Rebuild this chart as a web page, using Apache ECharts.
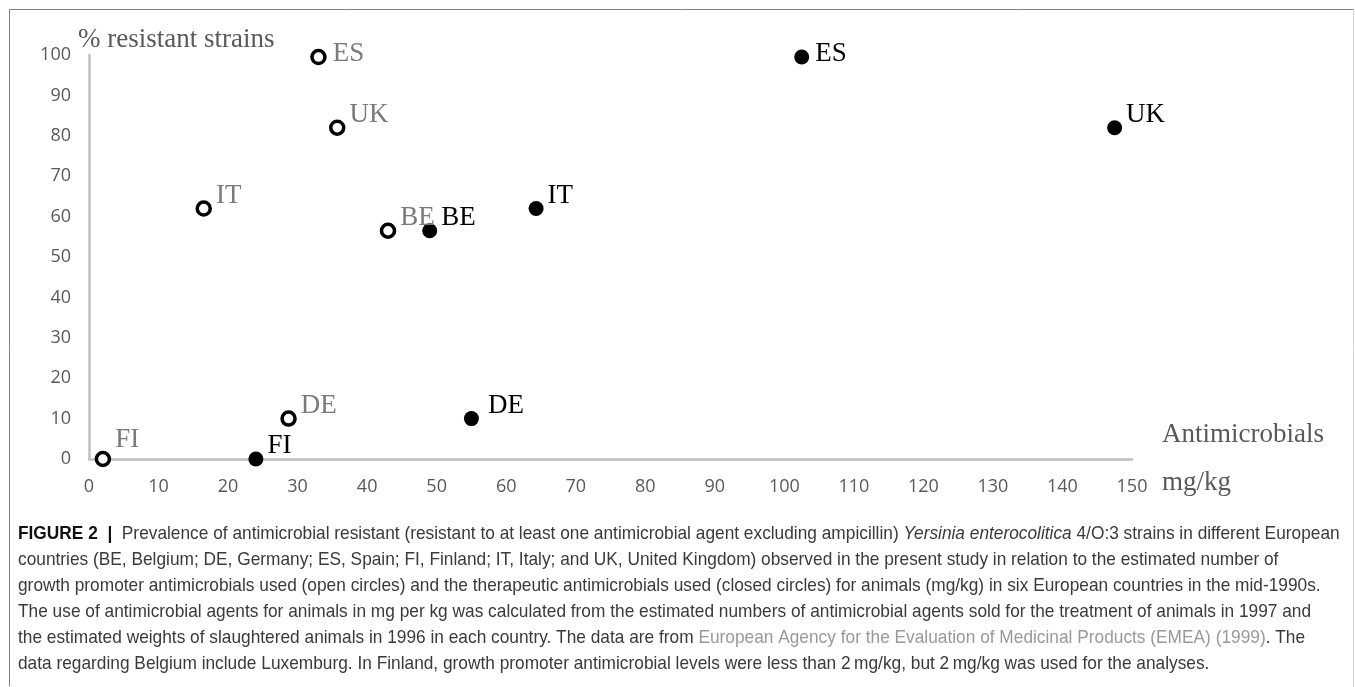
<!DOCTYPE html>
<html lang="en">

<head>
    <meta charset="UTF-8">
    <title>Figure 2</title>
    <script src="https://cdn.jsdelivr.net/npm/echarts@6/dist/echarts.min.js"></script>
    <style>
        html, body {
            margin: 0;
            padding: 0;
            background: #fff;
        }

        #main {
            width: 1355px;
            height: 687px;
        }
    </style>
</head>

<body>
    <div id="main"></div>
    <script>
        // countries, x = antimicrobials used (mg/kg), y = % resistant strains
        var countries = ['BE', 'DE', 'ES', 'FI', 'IT', 'UK'];
        var promoterUse = [43, 28.7, 33, 2, 16.5, 35.7];        // open circles
        var therapeuticUse = [49, 55, 102.5, 24, 64.3, 147.5];  // closed circles
        var resistantPct = [56.5, 10, 99.5, 0, 62, 82];

        var xTicks = [0, 150, 10];   // min, max, step
        var yTicks = [0, 100, 10];

        var captionLines = [
            '{b|FIGURE 2  |}  Prevalence of antimicrobial resistant (resistant to at least one antimicrobial agent excluding ampicillin) {i|Yersinia enterocolitica} 4/O:3 strains in different European',
            'countries (BE, Belgium; DE, Germany; ES, Spain; FI, Finland; IT, Italy; and UK, United Kingdom) observed in the present study in relation to the estimated number of',
            'growth promoter antimicrobials used (open circles) and the therapeutic antimicrobials used (closed circles) for animals (mg/kg) in six European countries in the mid-1990s.',
            'The use of antimicrobial agents for animals in mg per kg was calculated from the estimated numbers of antimicrobial agents sold for the treatment of animals in 1997 and',
            'the estimated weights of slaughtered animals in 1996 in each country. The data are from {l|European Agency for the Evaluation of Medicinal Products (EMEA) (1999)}. The',
            'data regarding Belgium include Luxemburg. In Finland, growth promoter antimicrobial levels were less than 2\u2009mg/kg, but 2\u2009mg/kg was used for the analyses.'
        ];

        // small hand nudges of the data labels (same order as countries)
        var openLabelNudge = [[0, 0], [0, 0], [2, 10], [0, -6], [0, 0], [0, 0]];
        var closedLabelNudge = [[0, 0], [5, 0], [2, 10], [0, 0], [0, 0], [0, 0]];

        var serif = '"Liberation Serif", "Times New Roman", serif';
        var capFont = '"Liberation Sans", Arial, sans-serif';
        var capSize = 19;

        function points(xs, nudge) {
            return countries.map(function (c, i) {
                return {
                    name: c,
                    value: [xs[i], resistantPct[i]],
                    label: { offset: [2 + nudge[i][0], -13 + nudge[i][1]] }
                };
            });
        }

        // squeeze the caption so the first line spans the figure width (condensed face in original)
        var ctx = document.createElement('canvas').getContext('2d');
        ctx.font = 'bold ' + capSize + 'px ' + capFont;
        var w1 = ctx.measureText('FIGURE 2  |').width;
        ctx.font = capSize + 'px ' + capFont;
        w1 += ctx.measureText(captionLines[0].replace(/\{[a-z]\|([^}]*)\}/g, '$1').replace('FIGURE 2  |', '')).width;
        var squeeze = 1321 / w1;

        var myChart = echarts.init(document.getElementById('main'));

        var graphics = [
            // figure frame
            { type: 'line', shape: { x1: 9.5, y1: 9.5, x2: 1353.5, y2: 9.5 }, style: { stroke: '#808080', lineWidth: 1 } },
            { type: 'line', shape: { x1: 9.5, y1: 9.5, x2: 9.5, y2: 686 }, style: { stroke: '#808080', lineWidth: 1 } },
            { type: 'line', shape: { x1: 1353.5, y1: 9.5, x2: 1353.5, y2: 687 }, style: { stroke: '#d4d4d4', lineWidth: 1 } }
        ];
        captionLines.forEach(function (t, i) {
            graphics.push({
                type: 'text',
                x: 18,
                y: 524 + i * 26,
                scaleX: squeeze,
                style: {
                    x: 0,
                    y: 0,
                    text: t,
                    font: capSize + 'px ' + capFont,
                    fill: '#3a3a3a',
                    verticalAlign: 'top',
                    rich: {
                        b: { fontFamily: capFont, fontSize: capSize, fontWeight: 'bold', fill: '#111' },
                        i: { fontFamily: capFont, fontSize: capSize, fontStyle: 'italic', fill: '#3a3a3a' },
                        l: { fontFamily: capFont, fontSize: capSize, fill: '#999' }
                    }
                }
            });
        });

        var option = {
            animation: false,
            grid: {
                left: 89,
                right: 223,
                top: 55,
                bottom: 228,
                containLabel: false,
                outerBoundsMode: 'none'
            },
            xAxis: {
                type: 'value',
                min: xTicks[0],
                max: xTicks[1],
                interval: xTicks[2],
                name: 'Antimicrobials\nmg/kg',
                nameLocation: 'end',
                nameGap: 30,
                nameTextStyle: {
                    fontFamily: serif,
                    fontSize: 27,
                    color: '#595959',
                    lineHeight: 48,
                    align: 'left',
                    verticalAlign: 'middle'
                },
                axisLine: { lineStyle: { color: '#bfbfbf', width: 2.5 } },
                axisTick: { show: false },
                splitLine: { show: false },
                axisLabel: { color: '#595959', fontSize: 18, fontFamily: 'Open Sans', margin: 19 }
            },
            yAxis: {
                type: 'value',
                min: yTicks[0],
                max: yTicks[1],
                interval: yTicks[2],
                name: '% resistant strains',
                nameLocation: 'end',
                nameGap: 15,
                nameTextStyle: {
                    fontFamily: serif,
                    fontSize: 27,
                    color: '#595959',
                    align: 'left',
                    verticalAlign: 'middle',
                    padding: [0, 0, 0, -11]
                },
                axisLine: { show: true, lineStyle: { color: '#bfbfbf', width: 2.5 } },
                axisTick: { show: false },
                splitLine: { show: false },
                axisLabel: { color: '#595959', fontSize: 18, fontFamily: 'Open Sans', margin: 18 }
            },
            graphic: graphics,
            series: [{
                name: 'Growth promoter',
                type: 'scatter',
                symbol: 'circle',
                symbolSize: 13,
                itemStyle: { color: '#fff', borderColor: '#000', borderWidth: 3.5, opacity: 1 },
                label: {
                    show: true,
                    position: 'right',
                    distance: 2,
                    formatter: '{b}',
                    fontFamily: serif,
                    fontSize: 27,
                    color: '#7a7a7a'
                },
                data: points(promoterUse, openLabelNudge)
            }, {
                name: 'Therapeutic',
                type: 'scatter',
                symbol: 'circle',
                symbolSize: 15,
                itemStyle: { color: '#000', opacity: 1 },
                label: {
                    show: true,
                    position: 'right',
                    distance: 2,
                    formatter: '{b}',
                    fontFamily: serif,
                    fontSize: 27,
                    color: '#000'
                },
                data: points(therapeuticUse, closedLabelNudge)
            }]
        };

        myChart.setOption(option);
    </script>
</body>

</html>
